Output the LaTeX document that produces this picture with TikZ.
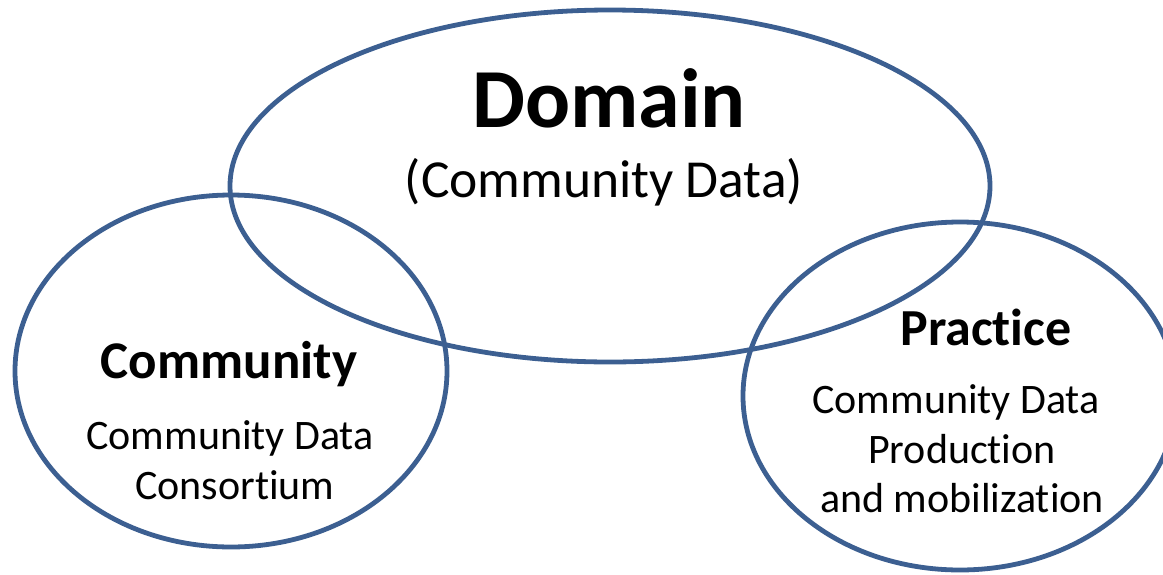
\documentclass[tikz,border=0pt]{standalone}
\usepackage{fontspec}
\setmainfont{Carlito}[RawFeature={-liga;-clig;-calt;-dlig}]
\usepackage{tikz}
\definecolor{myblue}{RGB}{60,95,145}
\tikzstyle{ring}=[draw=myblue, line width=4.8pt]
\tikzstyle{title}=[anchor=base, font=\bfseries, inner sep=0pt]
\tikzstyle{body}=[anchor=base, inner sep=0pt]
\newcommand*{\bodysize}{\fontsize{42}{50}\selectfont}

\begin{document}
\begin{tikzpicture}[x=1pt, y=-1pt]
	\useasboundingbox (0,0) rectangle (1163,574);
	\clip (0,0) rectangle (1163,574);
	% the three rings
	\draw[ring] (610,186) ellipse [x radius=380, y radius=176];
	\draw[ring] (231,371) ellipse [x radius=216, y radius=176];
	\draw[ring] (960,396) ellipse [x radius=217, y radius=174];
	% domain
	\node (domain) at (609,127) [title, font=\fontsize{84}{90}\selectfont\bfseries] {Domain};
	\node (domaindata) at (604,197) [body, font=\fontsize{53.5}{60}\selectfont] {(Community Data)};
	% community
	\node (community) at (229,378) [title, font=\fontsize{53}{60}\selectfont\bfseries] {Community};
	\node (communitydata) at (230,449) [body, font=\bodysize] {Community Data};
	\node (consortium) at (235,499) [body, font=\bodysize] {Consortium};
	% practice
	\node (practice) at (986,345) [title, font=\fontsize{52}{60}\selectfont\bfseries] {Practice};
	\node (practicedata) at (956,413) [body, font=\bodysize] {Community Data};
	\node (production) at (962,463) [body, font=\bodysize] {Production};
	\node (mobilization) at (962,512) [body, font=\bodysize] {and mobilization};
\end{tikzpicture}
\end{document}
